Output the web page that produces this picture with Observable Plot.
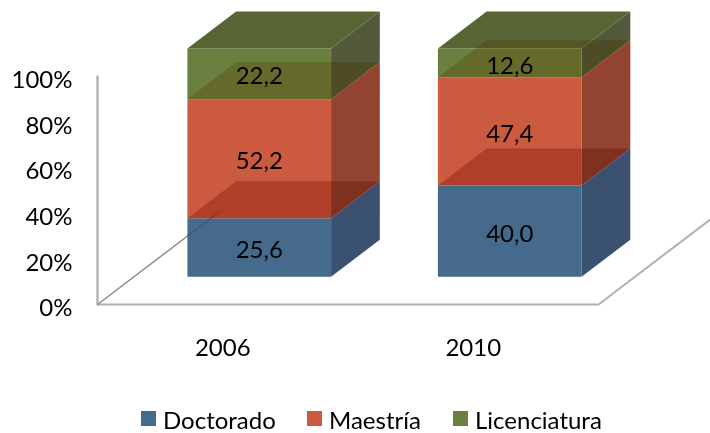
<!DOCTYPE html>
<html><head><meta charset="utf-8">
<script src="https://cdn.jsdelivr.net/npm/d3@7"></script>
<script src="https://cdn.jsdelivr.net/npm/@observablehq/plot@0.6"></script>
<style>
html,body{margin:0;padding:0;background:#fff;overflow:hidden;width:710px;height:433px}
#legend{position:relative;height:38px;font:24px Lato,sans-serif;color:#000}
#legend span{position:absolute;white-space:nowrap;line-height:1}
#legend i{position:absolute;top:16px;width:15px;height:15px}
</style></head><body>
<div id="chart"></div><div id="legend"></div>
<script>
const years = ["2006", "2010"];
const levels = ["Doctorado", "Maestría", "Licenciatura"];
const doctorado = [25.6, 40.0];
const maestria = [52.2, 47.4];
const licenciatura = [22.2, 12.6];
const frontColors = ["#466a8c", "#cb5a3f", "#6b8040"];
const sideColors = ["#3a5270", "#934430", "#53593a"];
const topColor = "#586635";
const overlayColors = ["#ddb2aa", "#eed6a8"];

// oblique projection of the 3D chart box, in data units
const DX = 0.491, DY = 40.96;
const zFront = 0.2967, zBack = 0.6927, halfW = 0.2868;
const P = (u, pct, z) => ({x: u + z * DX, y: pct + z * DY});

const series = [doctorado, maestria, licenciatura];
const opaque = [], overlays = [], labels = [];
years.forEach((year, i) => {
  const c = i + 0.5, l = c - halfW, r = c + halfW;
  let base = 0;
  series.forEach((vals, s) => {
    const v = vals[i], t = base + v;
    const push = (arr, id, fill, pts) => pts.forEach(p => arr.push({...p, id: `${year}-${s}-${id}`, fill}));
    push(opaque, "side", sideColors[s], [P(r, base, zFront), P(r, base, zBack), P(r, t, zBack), P(r, t, zFront)]);
    push(opaque, "front", frontColors[s], [P(l, base, zFront), P(r, base, zFront), P(r, t, zFront), P(l, t, zFront)]);
    const topFace = [P(l, t, zFront), P(r, t, zFront), P(r, t, zBack), P(l, t, zBack)];
    if (s === 2) push(opaque, "top", topColor, topFace);
    else push(overlays, "top", overlayColors[s], topFace);
    labels.push({...P(c, base + v / 2, zFront), text: v.toFixed(1).replace(".", ",")});
    base = t;
  });
});

const floorFront = [{x: 0, y: 0}, {x: 2, y: 0}, P(2, 0, 1)];
const floorLeft = [{x: 0, y: 0}, P(0, 0, 1)];

const plot = Plot.plot({
  width: 710, height: 395,
  marginLeft: 97, marginRight: 0, marginTop: 75.7, marginBottom: 91,
  x: {domain: [0, 613 / 250.5]},
  y: {domain: [0, 100]},
  style: {fontFamily: "Lato, sans-serif", fontSize: "24px", color: "#000", overflow: "visible"},
  marks: [
    Plot.ruleX([0], {y1: 0, y2: 100, stroke: "#b0b0b0", strokeWidth: 2.4}),
    Plot.line(floorFront, {x: "x", y: "y", stroke: "#b0b0b0", strokeWidth: 2}),
    Plot.line(floorLeft, {x: "x", y: "y", stroke: "#aaaaaa", strokeWidth: 1.5}),
    Plot.line(opaque, {x: "x", y: "y", z: "id", fill: "fill", stroke: "none"}),
    Plot.line(overlays, {x: "x", y: "y", z: "id", fill: "fill", stroke: "none", mixBlendMode: "multiply"}),
    Plot.line(floorLeft, {x: "x", y: "y", stroke: "#d4d4d4", strokeWidth: 1.3, mixBlendMode: "multiply"}),
    Plot.axisY({ticks: [0, 20, 40, 60, 80, 100], tickFormat: d => d + "%", tickSize: 0, tickPadding: 25, dy: 4, label: null}),
    Plot.axisX({ticks: [0.5, 1.5], tickFormat: d => years[d - 0.5], tickSize: 0, tickPadding: 34, label: null}),
    Plot.text(labels, {x: "x", y: "y", text: "text", dy: 3, fill: "#000"})
  ]
});
document.getElementById("chart").append(plot);

const legend = document.getElementById("legend");
const swatchX = [141, 307, 453], textX = [163, 329, 475];
levels.forEach((name, i) => {
  const sw = document.createElement("i");
  sw.style.left = swatchX[i] + "px"; sw.style.background = frontColors[i];
  const tx = document.createElement("span");
  tx.style.left = textX[i] + "px"; tx.style.top = "13px"; tx.textContent = name;
  legend.append(sw, tx);
});
</script>
</body></html>
